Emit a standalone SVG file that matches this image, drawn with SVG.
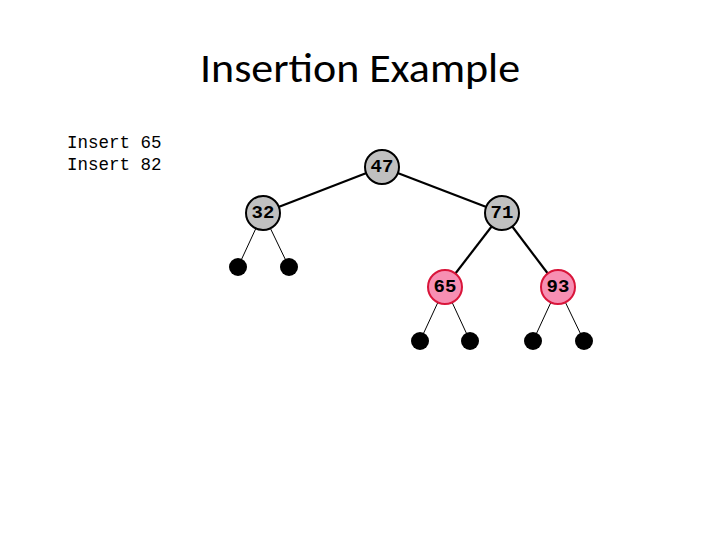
<svg xmlns="http://www.w3.org/2000/svg" width="720" height="540" viewBox="0 0 720 540">
<style>
.b{fill:#c0c0c0;stroke:#000;stroke-width:2}
.r{fill:#f78fb3;stroke:#d9153a;stroke-width:2}
.l{fill:#000}
.t{font-family:"Liberation Mono",monospace;font-weight:bold;font-size:19px;text-anchor:middle;dominant-baseline:central}
.e{stroke:#000;stroke-width:2.2}
.f{stroke:#000;stroke-width:1}
</style>
<rect width="720" height="540" fill="#fff"/>
<text x="360" y="82" font-family="Calibri,'Liberation Sans',sans-serif" font-size="40" text-anchor="middle" textLength="320" lengthAdjust="spacingAndGlyphs">Insertion Example</text>
<text font-family="'Liberation Mono',monospace" font-size="17.5"><tspan x="67" y="148">Insert 65</tspan><tspan x="67" y="170">Insert 82</tspan></text>
<g id="connectors">
<line class="e" x1="382" y1="167" x2="263" y2="213"/>
<line class="e" x1="382" y1="167" x2="502" y2="213"/>
<line class="e" x1="502" y1="213" x2="445" y2="287"/>
<line class="e" x1="502" y1="213" x2="558" y2="287"/>
<line class="f" x1="263" y1="213" x2="238" y2="267"/>
<line class="f" x1="263" y1="213" x2="289" y2="267"/>
<line class="f" x1="445" y1="287" x2="420" y2="341"/>
<line class="f" x1="445" y1="287" x2="470" y2="341"/>
<line class="f" x1="558" y1="287" x2="533" y2="341"/>
<line class="f" x1="558" y1="287" x2="584" y2="341"/>
</g>
<g id="n47"><circle class="b" cx="382" cy="167" r="17"/><text class="t" x="382" y="167">47</text></g>
<g id="n32"><circle class="b" cx="263" cy="213" r="17"/><text class="t" x="263" y="213">32</text></g>
<g id="n71"><circle class="b" cx="502" cy="213" r="17"/><text class="t" x="502" y="213">71</text></g>
<g id="n65"><circle class="r" cx="445" cy="287" r="17"/><text class="t" x="445" y="287">65</text></g>
<g id="n93"><circle class="r" cx="558" cy="287" r="17"/><text class="t" x="558" y="287">93</text></g>
<g id="leaves">
<circle class="l" cx="238" cy="267" r="9"/><circle class="l" cx="289" cy="267" r="9"/>
<circle class="l" cx="420" cy="341" r="9"/><circle class="l" cx="470" cy="341" r="9"/>
<circle class="l" cx="533" cy="341" r="9"/><circle class="l" cx="584" cy="341" r="9"/>
</g>
</svg>
